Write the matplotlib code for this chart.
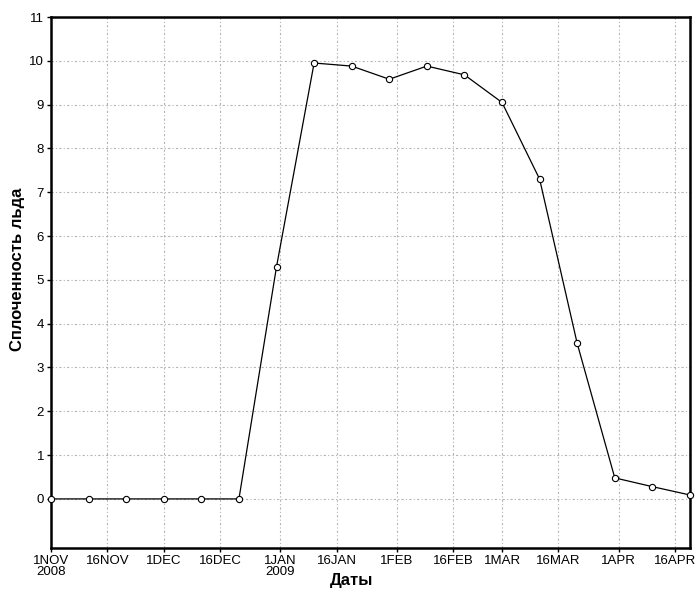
import matplotlib.pyplot as plt
import matplotlib.dates as mdates
import pandas as pd

plt.rcParams['font.family'] = ['Liberation Sans Narrow', 'Liberation Sans', 'DejaVu Sans']

# данные: сплоченность льда каждые 10 дней
dates = pd.to_datetime([
  "2008-11-01", "2008-11-11", "2008-11-21", "2008-12-01", "2008-12-11",
  "2008-12-21", "2008-12-31", "2009-01-10", "2009-01-20", "2009-01-30",
  "2009-02-09", "2009-02-19", "2009-03-01", "2009-03-11", "2009-03-21",
  "2009-03-31", "2009-04-10", "2009-04-20",
])
ice = [0, 0, 0, 0, 0, 0, 5.3, 9.95, 9.88, 9.58, 9.88, 9.68, 9.05, 7.3,
       3.55, 0.48, 0.28, 0.09]

tick_dates = pd.to_datetime([
  "2008-11-01", "2008-11-16", "2008-12-01", "2008-12-16", "2009-01-01",
  "2009-01-16", "2009-02-01", "2009-02-16", "2009-03-01", "2009-03-16",
  "2009-04-01", "2009-04-16",
])
tick_labels = ["1NOV\n2008", "16NOV", "1DEC", "16DEC", "1JAN\n2009", "16JAN",
               "1FEB", "16FEB", "1MAR", "16MAR", "1APR", "16APR"]

fig = plt.figure(figsize=(6.96, 5.91), dpi=100)
ax = fig.add_axes([0.0733, 0.0728, 0.918, 0.8984])

ax.plot(dates, ice, "-", color="black", lw=0.9, marker="o", markersize=4.5,
        markerfacecolor="white", markeredgecolor="black", markeredgewidth=0.8,
        clip_on=False, zorder=3)

ax.set_xlim(pd.Timestamp("2008-11-01"), pd.Timestamp("2009-04-20"))
ax.set_ylim(-1.12, 11)
ax.set_xticks(tick_dates)
ax.set_xticklabels(tick_labels, fontsize=9.5, linespacing=0.9)
ax.set_yticks(range(0, 12))
ax.tick_params(axis="both", direction="out", length=3, width=1, labelsize=9.5,
               pad=2)

ax.grid(True, color="#b4b4b4", linestyle=(0, (2, 2, 1, 2)), lw=0.8)
for s in ax.spines.values():
  s.set_linewidth(1.8)
  s.set_color("black")

ax.set_ylabel("Сплоченность льда", fontsize=12, fontweight="bold",
              family=["Liberation Sans", "DejaVu Sans"])
ax.yaxis.set_label_coords(-0.041, 0.525)
ax.set_xlabel("Даты", fontsize=12, fontweight="bold",
              family=["Liberation Sans", "DejaVu Sans"])
ax.xaxis.set_label_coords(0.47, -0.048)

fig.savefig("out.png", dpi=100)
